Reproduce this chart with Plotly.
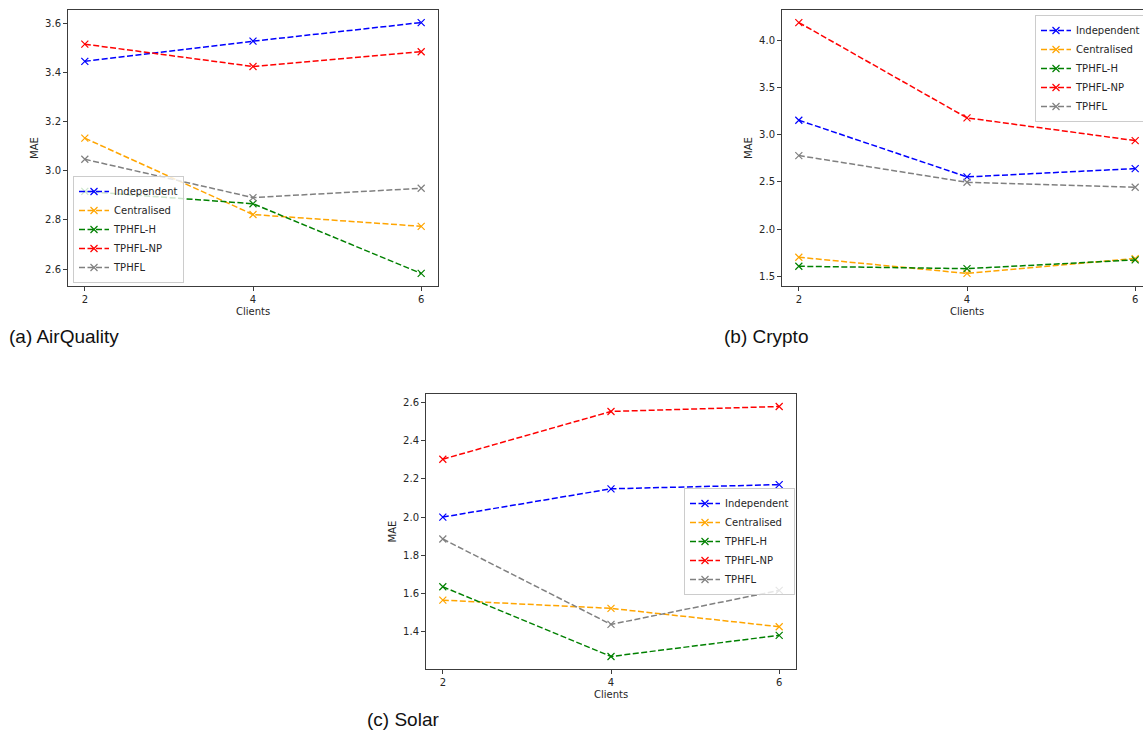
import plotly.graph_objects as go

W, H = 1143, 730

clients = [2, 4, 6]
methods = ["Independent", "Centralised", "TPHFL-H", "TPHFL-NP", "TPHFL"]
colors = ["blue", "orange", "green", "red", "gray"]

# MAE per method, one value per client count (2, 4, 6)
airquality_independent = [3.446, 3.528, 3.604]
airquality_centralised = [3.133, 2.822, 2.774]
airquality_tphfl_h = [2.916, 2.866, 2.582]
airquality_tphfl_np = [3.516, 3.425, 3.485]
airquality_tphfl = [3.047, 2.891, 2.929]

crypto_independent = [3.155, 2.554, 2.642]
crypto_centralised = [1.702, 1.530, 1.688]
crypto_tphfl_h = [1.606, 1.581, 1.674]
crypto_tphfl_np = [4.191, 3.180, 2.939]
crypto_tphfl = [2.780, 2.497, 2.444]

solar_independent = [2.000, 2.148, 2.170]
solar_centralised = [1.565, 1.522, 1.426]
solar_tphfl_h = [1.635, 1.270, 1.381]
solar_tphfl_np = [2.303, 2.553, 2.579]
solar_tphfl = [1.885, 1.438, 1.616]

airquality_ticks = [2.6, 2.8, 3.0, 3.2, 3.4, 3.6]
crypto_ticks = [1.5, 2.0, 2.5, 3.0, 3.5, 4.0]
solar_ticks = [1.4, 1.6, 1.8, 2.0, 2.2, 2.4, 2.6]

panels = [
    dict(name="(a) AirQuality",
         series=[airquality_independent, airquality_centralised, airquality_tphfl_h,
                 airquality_tphfl_np, airquality_tphfl],
         ticks=airquality_ticks),
    dict(name="(b) Crypto",
         series=[crypto_independent, crypto_centralised, crypto_tphfl_h,
                 crypto_tphfl_np, crypto_tphfl],
         ticks=crypto_ticks),
    dict(name="(c) Solar",
         series=[solar_independent, solar_centralised, solar_tphfl_h,
                 solar_tphfl_np, solar_tphfl],
         ticks=solar_ticks),
]


def px(x):
    return x / W


def py(y):
    return 1 - y / H


# axes boxes in pixels: left, right, top, bottom
boxes = [(68, 438, 10, 286), (782, 1152, 10, 286), (426, 796, 394, 669)]
legend_pos = [
    dict(x=px(73), xanchor="left", y=py(283), yanchor="bottom"),
    dict(x=px(1035), xanchor="left", y=py(15), yanchor="top"),
    dict(x=px(684), xanchor="left", y=py(488), yanchor="top"),
]

TEXT = "#262626"
TICK_FONT = dict(family="DejaVu Sans", size=10, color=TEXT)
FRAME = "#3c3c3c"

fig = go.Figure()
layout = dict(
    width=W, height=H,
    margin=dict(l=0, r=0, t=0, b=0, autoexpand=False),
    paper_bgcolor="white", plot_bgcolor="white", annotations=[],
    showlegend=True,
)

for i, (panel, box) in enumerate(zip(panels, boxes)):
    sfx = "" if i == 0 else str(i + 1)
    xa, ya = "x" + sfx, "y" + sfx
    leg = "legend" + sfx
    for m, c, vals in zip(methods, colors, panel["series"]):
        fig.add_trace(go.Scatter(
            x=clients, y=vals, name=m, mode="lines+markers",
            xaxis=xa, yaxis=ya, legend=leg,
            line=dict(color=c, width=1.5, dash="6px,2.5px"),
            marker=dict(symbol="x-thin", size=7, line=dict(color=c, width=1.2)),
        ))

    left, right, top, bottom = box
    # 5% padding around the data on both axes
    xspan = max(clients) - min(clients)
    xlo, xhi = min(clients) - 0.05 * xspan, max(clients) + 0.05 * xspan
    clip_right = min(right, W)
    xhi_vis = xlo + (xhi - xlo) * (clip_right - left) / (right - left)
    allv = [v for s in panel["series"] for v in s]
    yspan = max(allv) - min(allv)
    ylo, yhi = min(allv) - 0.05 * yspan, max(allv) + 0.05 * yspan

    layout["xaxis" + sfx] = dict(
        domain=[px(left), px(clip_right)], range=[xlo, xhi_vis], anchor=ya,
        tickvals=clients, ticks="outside", ticklen=4, tickcolor=FRAME,
        showline=True, linecolor=FRAME, linewidth=1, mirror=True,
        showgrid=False, zeroline=False, tickfont=TICK_FONT, automargin=False,
    )
    layout["yaxis" + sfx] = dict(
        domain=[py(bottom), py(top)], range=[ylo, yhi], anchor=xa,
        tickvals=panel["ticks"], tickformat=".1f", ticks="outside", ticklen=4,
        tickcolor=FRAME, showline=True, linecolor=FRAME, linewidth=1,
        mirror=(right <= W), showgrid=False, zeroline=False,
        tickfont=TICK_FONT, automargin=False,
    )
    layout[leg] = dict(
        **legend_pos[i], bgcolor="rgba(255,255,255,0.8)", bordercolor="#cccccc",
        borderwidth=1, font=dict(family="DejaVu Sans", size=10, color=TEXT),
        tracegroupgap=0,
    )

    # axis titles
    mid_x = left + (clients[1] - xlo) / (xhi - xlo) * (right - left)
    layout["annotations"].append(dict(
        text="Clients", x=px(mid_x), y=py(bottom + 25), xref="paper", yref="paper",
        showarrow=False, font=dict(family="DejaVu Sans", size=10, color=TEXT),
        xanchor="center", yanchor="middle",
    ))
    layout["annotations"].append(dict(
        text="MAE", x=px(left - 34), y=py((top + bottom) / 2),
        xref="paper", yref="paper", showarrow=False, textangle=-90,
        font=dict(family="DejaVu Sans", size=10, color=TEXT),
        xanchor="center", yanchor="middle",
    ))

# panel captions
caption_pos = [(7, 336), (722, 336), (365, 719)]
for panel, (cx, cy) in zip(panels, caption_pos):
    layout["annotations"].append(dict(
        text=panel["name"], x=px(cx), y=py(cy), xref="paper", yref="paper",
        showarrow=False, xanchor="left", yanchor="middle",
        font=dict(family="Liberation Sans", size=19, color="#111111"),
    ))

fig.update_layout(**layout)
fig.write_html("out.html")
